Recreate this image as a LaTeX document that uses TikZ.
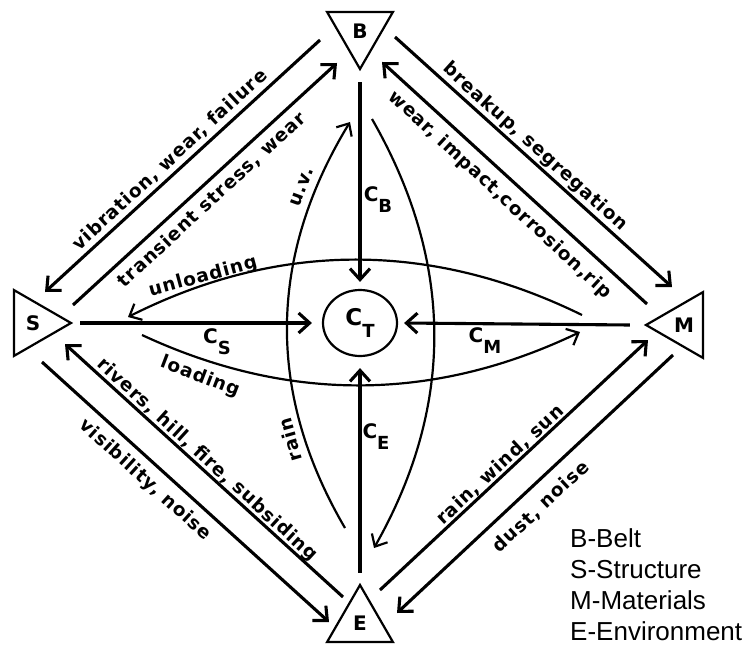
\documentclass[tikz,border=0pt]{standalone}
\usepackage{fontspec}
\usepackage{tikz}
\usetikzlibrary{shapes.geometric, arrows.meta, positioning, calc}
\newfontfamily\lblfont[LetterSpace=5]{DejaVu Sans}
\newfontfamily\keyfont{Liberation Sans}
\newcommand{\csub}[2]{#1\raisebox{-0.55em}{\fontsize{18pt}{18pt}\selectfont #2}}

\begin{document}
\begin{tikzpicture}[x=1pt, y=-1pt,
  tri/.style={regular polygon, regular polygon sides=3, draw, line width=2.2pt,
    minimum size=76pt, inner sep=0pt,
    font=\lblfont\bfseries\fontsize{20pt}{20pt}\selectfont},
  arr/.style={-{Straight Barb[length=11pt, width=20pt]}, line width=3.1pt},
  crv/.style={-{Straight Barb[length=10pt, width=18pt]}, line width=2.2pt},
  lbl/.style={font=\lblfont\bfseries\fontsize{18.5pt}{18.5pt}\selectfont, inner sep=0pt},
  cl/.style={font=\lblfont\bfseries\fontsize{20pt}{20pt}\selectfont, inner sep=0pt}
]
\useasboundingbox (0,0) rectangle (752,650);
\node[tri, shape border rotate=180] at (360, 31)  (B) {B};
\node[tri, shape border rotate=270] at (33, 323)  (S) {S};
\node[tri, shape border rotate=90]  at (684, 325) (M) {M};
\node[tri]                          at (360, 623) (E) {E};
\node[ellipse, draw, line width=2.2pt, minimum width=74pt, minimum height=66pt,
      cl, font=\lblfont\bfseries\fontsize{23pt}{23pt}\selectfont]
  at (360, 323) (CT) {\csub{C}{T}};

\coordinate (bs1) at (320, 40);  \coordinate (sb1) at (45, 292);
\coordinate (sb2) at (73, 305);  \coordinate (bs2) at (337, 63);
\coordinate (bm1) at (395, 37);  \coordinate (mb1) at (672, 287);
\coordinate (mb2) at (647, 304); \coordinate (bm2) at (382, 62);
\coordinate (es1) at (343, 597); \coordinate (se1) at (65, 344);
\coordinate (se2) at (42, 362);  \coordinate (es2) at (329, 622);
\coordinate (em1) at (380, 590); \coordinate (me1) at (648, 340);
\coordinate (me2) at (673, 355); \coordinate (em2) at (397, 613);
\draw[arr] (bs1) -- (sb1);
\draw[arr] (sb2) -- (bs2);
\draw[arr] (bm1) -- (mb1);
\draw[arr] (mb2) -- (bm2);
\draw[arr] (es1) -- (se1);
\draw[arr] (se2) -- (es2);
\draw[arr] (em1) -- (me1);
\draw[arr] (me2) -- (em2);

\draw[arr] ([yshift=-11pt]B.corner 1) -- ([yshift=7pt]CT.north);
\draw[arr] ([xshift=7pt]S.corner 1)   -- ([xshift=-10pt]CT.west);
\draw[arr] ([xshift=-14pt]M.corner 1) -- ([xshift=6pt]CT.east);
\draw[arr] ([yshift=10pt]E.corner 1)  -- ([yshift=-11pt]CT.south);

\coordinate (up1) at (582, 315); \coordinate (up2) at (128, 317);
\coordinate (lo1) at (142, 335); \coordinate (lo2) at (580, 332);
\coordinate (lf1) at (345, 528); \coordinate (lf2) at (350, 122);
\coordinate (rt1) at (372, 119); \coordinate (rt2) at (374, 548);
\draw[crv] (up1) .. controls (431, 241) and (279, 241) .. (up2);
\draw[crv] (lo1) .. controls (288, 403) and (434, 402) .. (lo2);
\draw[crv] (lf1) .. controls (266, 393) and (268, 257) .. (lf2);
\draw[crv] (rt1) .. controls (454, 262) and (455, 405) .. (rt2);

\node[lbl, rotate=42.6]  at (170, 160) (tvib)  {vibration, wear, failure};
\node[lbl, rotate=42.7]  at (212, 200) (ttrs)  {transient stress, wear};
\node[lbl, rotate=-42.1] at (535, 147) (tbrk)  {breakup, segregation};
\node[lbl, rotate=-42.7] at (500, 195) (timp)  {wear, impact,corrosion,rip};
\node[lbl, rotate=-42.4] at (207, 460) (triv)  {rivers, hill, fire, subsiding};
\node[lbl, rotate=-42.1] at (145, 480) (tvis)  {visibility, noise};
\node[lbl, rotate=43]    at (500, 465) (twnd)  {rain, wind, sun};
\node[lbl, rotate=43]    at (541, 507) (tdst)  {dust, noise};
\node[lbl, rotate=15]    at (203, 277) (tunl)  {unloading};
\node[lbl, rotate=-21]   at (200, 377) (tlod)  {loading};
\node[lbl, rotate=70]    at (302, 187) (tuv)   {u.v.};
\node[lbl, rotate=106]   at (290, 440) (train) {rain};

\node[cl] at (378, 200) (tcb) {\csub{C}{B}};
\node[cl] at (217, 342) (tcs) {\csub{C}{S}};
\node[cl] at (485, 341) (tcm) {\csub{C}{M}};
\node[cl] at (376, 437) (tce) {\csub{C}{E}};

\node[anchor=west, align=left, inner sep=0pt,
      font=\keyfont\fontsize{26pt}{31pt}\selectfont]
  at (570, 585) (key) {B-Belt\\S-Structure\\M-Materials\\E-Environment};
\end{tikzpicture}
\end{document}
